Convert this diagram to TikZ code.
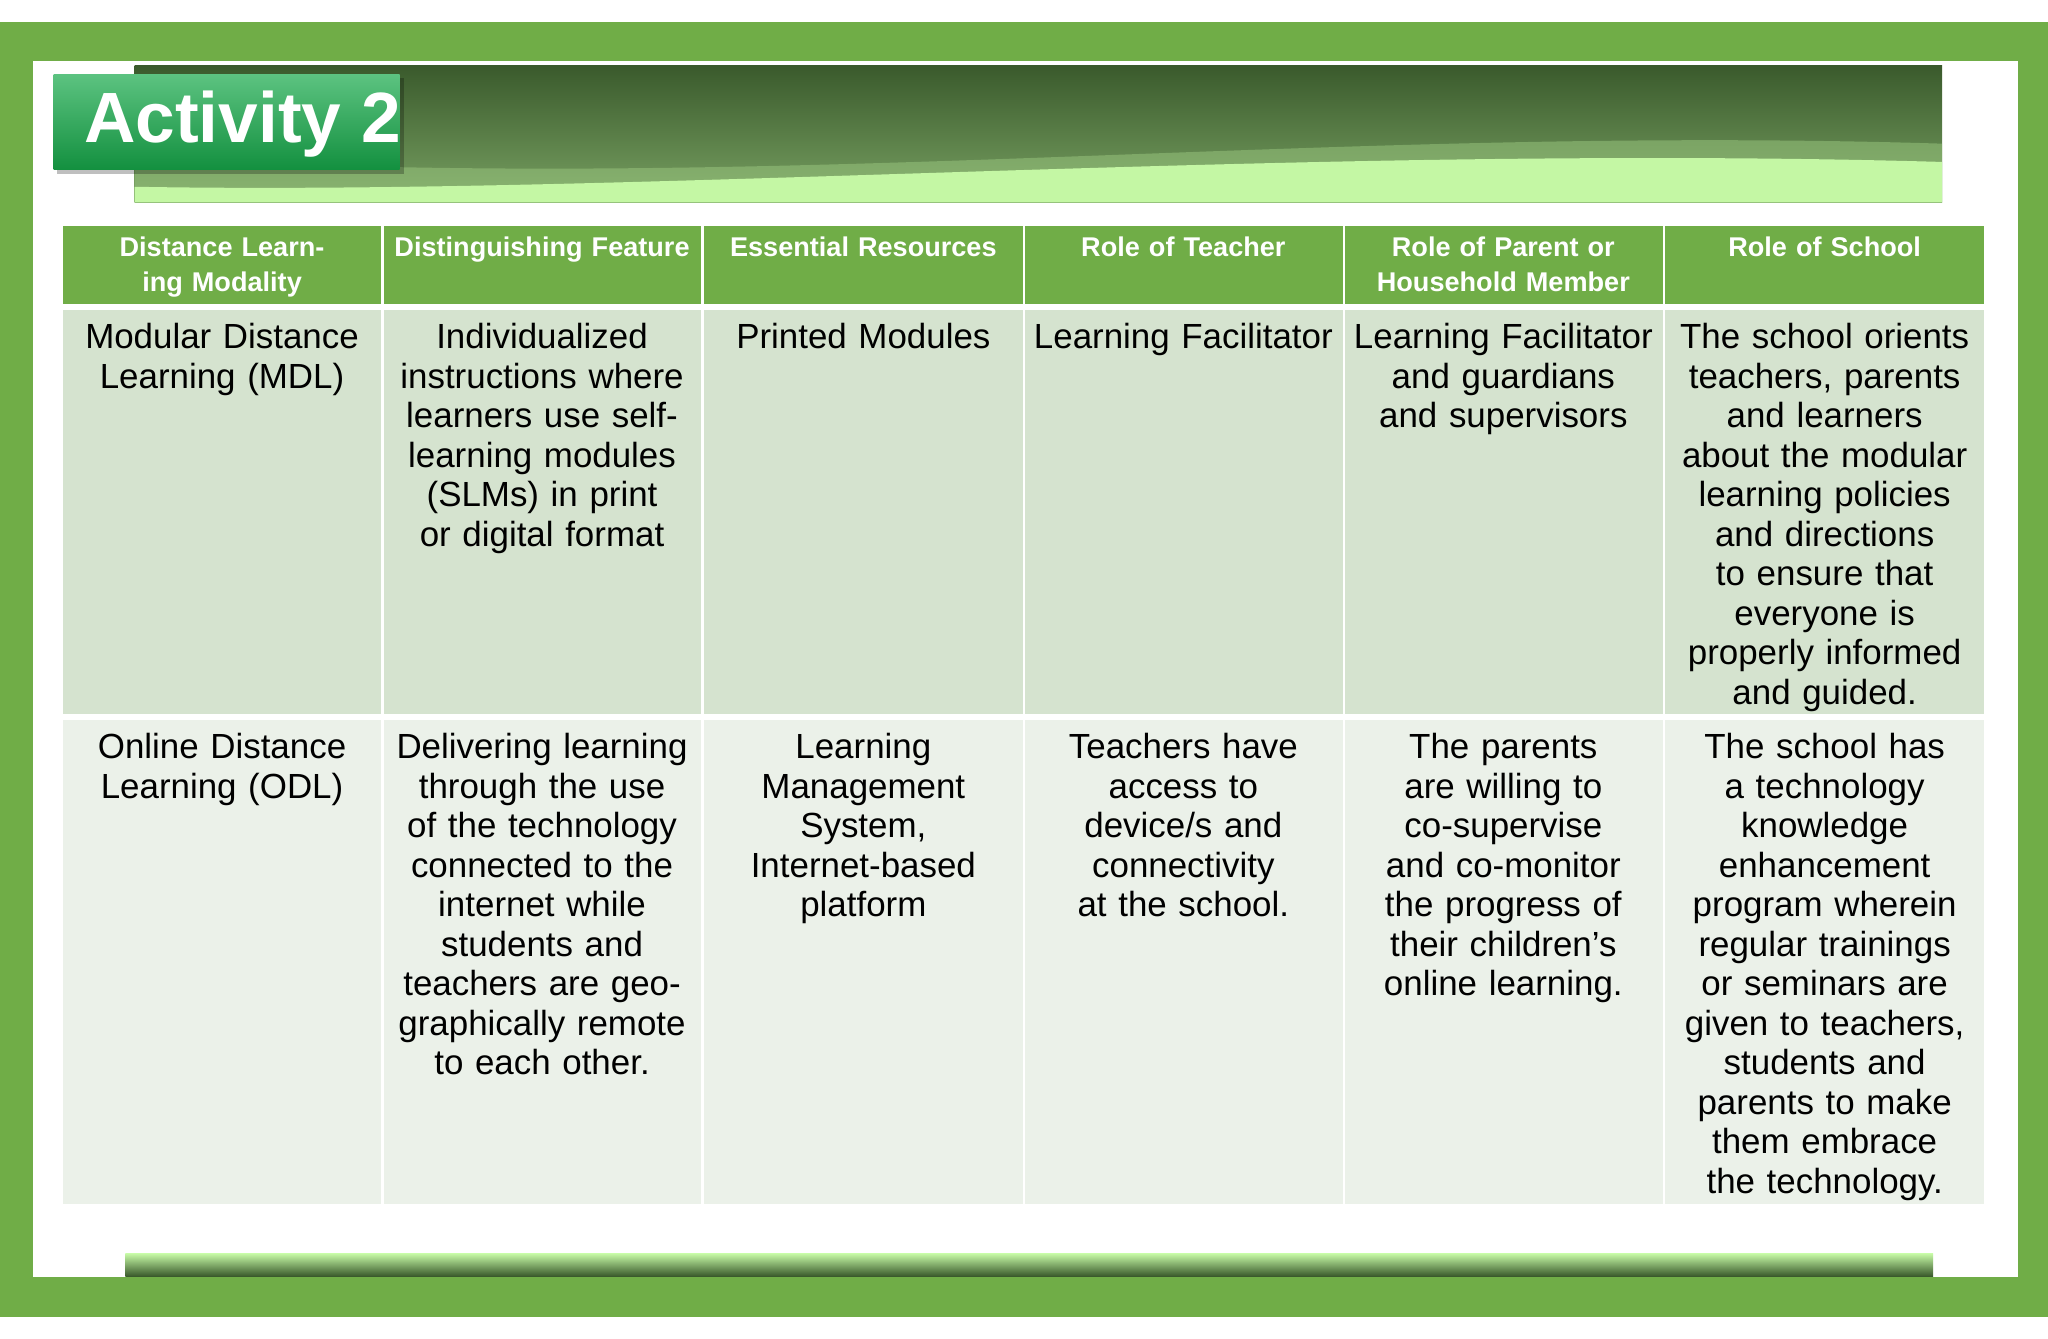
\documentclass[tikz,border=0pt]{standalone}
\usepackage{fontspec}
\setmainfont{Liberation Sans}
\definecolor{frame}{HTML}{70AD47}
\definecolor{hdr}{HTML}{70AD47}
\definecolor{rowa}{HTML}{D5E3CF}
\definecolor{rowb}{HTML}{EBF1E9}
\definecolor{dk}{HTML}{3A5A2C}
\definecolor{lt}{HTML}{C4F7A4}
\definecolor{act}{HTML}{16A94A}
\tikzset{
 hcell/.style={anchor=north,align=center,text width=2.3cm,inner sep=0pt,text=white,font=\fontsize{5.9}{7.5}\selectfont\bfseries},
 bcell/.style={anchor=north,align=center,text width=2.35cm,inner sep=0pt,font=\fontsize{7.6}{8.6}\selectfont},
}
\begin{document}
\begin{tikzpicture}[x=0.01cm,y=-0.01cm]
\useasboundingbox (0,0) rectangle (1568,1025);
\fill[white] (0,0) rectangle (1568,1025);
% frame
\fill[frame] (0,17) rectangle (1568,1008);
\fill[white] (25,47) rectangle (1545,978);
% banner
\shade[top color=dk,bottom color=dk!55!lt] (103,50) rectangle (1487,155);
\fill[lt!70!dk, opacity=0.5] (103,155) -- (103,120) .. controls (600,150) and (1000,95) .. (1487,110) -- (1487,155) -- cycle;
\fill[lt] (103,155) -- (103,143) .. controls (500,150) and (1000,110) .. (1487,124) -- (1487,155) -- cycle;
% activity box
\fill[black,opacity=0.25] (44,60) rectangle (309,133);
\shade[top color=act!70!white,bottom color=act!85!black] (41,57) rectangle (306,130);
\node[text=white,font=\fontsize{15.5}{16}\selectfont\bfseries,anchor=west] (act) at (52,95) {Activity 2};
% table
\fill[hdr] (48,173) rectangle (1519,235);
\fill[rowa] (48,235) rectangle (1519,549);
\fill[rowb] (48,549) rectangle (1519,922);
\foreach \x in {293,538,784,1029,1274} \draw[white,line width=0.6pt] (\x,173) -- (\x,922);
\draw[white,line width=1.2pt] (48,235) -- (1519,235);
\draw[white,line width=1.2pt] (48,549) -- (1519,549);
% headers
\node[hcell] (h1) at (170,181) {Distance Learning Modality};
\node[hcell] (h2) at (415,181) {Distinguishing Feature};
\node[hcell,text width=2.4cm] (h3) at (661,181) {Essential Resources};
\node[hcell] (h4) at (906,181) {Role of Teacher};
\node[hcell] (h5) at (1151,181) {Role of Parent or Household Member};
\node[hcell] (h6) at (1397,181) {Role of School};
% row 1
\node[bcell] (a1) at (170,247) {Modular Distance Learning (MDL)};
\node[bcell] (a2) at (415,247) {Individualized instructions where learners use self-learning modules (SLMs) in print or digital format};
\node[bcell] (a3) at (661,247) {Printed Modules};
\node[bcell] (a4) at (906,247) {Learning Facilitator};
\node[bcell] (a5) at (1151,247) {Learning Facilitator and guardians and supervisors};
\node[bcell,text width=2.25cm] (a6) at (1397,247) {The school orients teachers, parents and learners about the modular learning policies and directions to ensure that everyone is properly informed and guided.};
% row 2
\node[bcell] (b1) at (170,561) {Online Distance Learning (ODL)};
\node[bcell,text width=2.25cm] (b2) at (415,561) {Delivering learning through the use of the technology connected to the internet while students and teachers are geographically remote to each other.};
\node[bcell,text width=2.0cm] (b3) at (661,561) {Learning Management System, Internet-based platform};
\node[bcell,text width=2.2cm] (b4) at (906,561) {Teachers have access to device/s and connectivity at the school.};
\node[bcell,text width=2.1cm] (b5) at (1151,561) {The parents are willing to co-supervise and co-monitor the progress of their children’s online learning.};
\node[bcell,text width=2.25cm] (b6) at (1397,561) {The school has a technology knowledge enhancement program wherein regular trainings or seminars are given to teachers, students and parents to make them embrace the technology.};
% bottom bar
\shade[top color=lt,bottom color=dk] (96,960) rectangle (1480,977);
\end{tikzpicture}
\end{document}
